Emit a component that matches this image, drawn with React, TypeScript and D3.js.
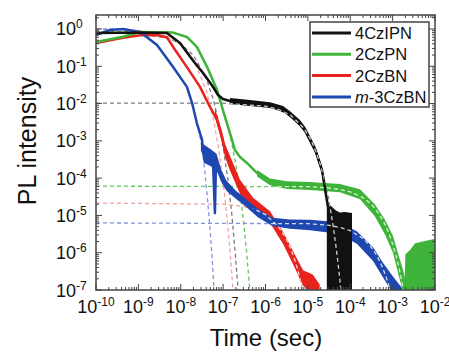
import React from "react";
import * as d3 from "d3";

type P = [number, number];
type B = [number, number, number];

// ---- 4CzIPN (black) ----
const czipnCurve: P[] = [
  [1e-10, 0.78], [1.1e-9, 0.8], [4.7e-9, 0.78], [9.6e-9, 0.42], [1.9e-8, 0.147],
  [3.35e-8, 0.066], [5.45e-8, 0.031], [7.6e-8, 0.0169], [9.9e-8, 0.0132], [1.45e-7, 0.0117],
  [4.3e-7, 0.0103], [1.28e-6, 0.0091], [3.8e-6, 0.0052], [8.6e-6, 0.00195], [1.5e-5, 5.7e-4],
  [2.15e-5, 1.65e-4], [2.8e-5, 2.6e-5], [3.0e-5, 1.68e-5],
];
const czipnBand: B[] = [
  [1.45e-7, 0.0098, 0.014], [4.3e-7, 0.0086, 0.0124], [1.28e-6, 0.0076, 0.0109],
  [2.6e-6, 0.006, 0.0086], [3.8e-6, 0.0043, 0.0062], [6.5e-6, 0.0025, 0.0036],
  [8.6e-6, 0.0016, 0.0024], [1.5e-5, 4.6e-4, 7.1e-4], [2.15e-5, 1.3e-4, 2.1e-4],
  [2.8e-5, 2.0e-5, 3.3e-5],
];
const czipnNoise: P[] = [
  [2.8e-5, 2.6e-5], [3.3e-5, 1.9e-5], [3.9e-5, 1.6e-5], [4.6e-5, 1.35e-5],
  [5.7e-5, 1.2e-5], [7.5e-5, 1.23e-5], [1.1e-4, 1.16e-5],
];
const czipnPrompt: P[] = [
  [1e-10, 0.8], [1e-9, 0.75], [5e-9, 0.56], [1e-8, 0.4], [2e-8, 0.195], [4e-8, 0.048],
  [6e-8, 0.0117], [8e-8, 0.0029], [1e-7, 7.1e-4], [1.3e-7, 8.9e-5], [1.6e-7, 1.1e-5],
  [1.9e-7, 1.2e-6], [2.2e-7, 1.5e-7], [2.3e-7, 7.2e-8],
];
const czipnDelayed: P[] = [
  [1e-10, 0.0103], [1e-7, 0.0103], [1e-6, 0.0085], [2e-6, 0.007], [4e-6, 0.0048],
  [8e-6, 0.0022], [1.2e-5, 1.03e-3], [1.6e-5, 4.7e-4], [2e-5, 2.2e-4], [2.5e-5, 8.4e-5],
  [3e-5, 3.3e-5], [3.5e-5, 1.2e-5], [4e-5, 4.8e-6], [4.5e-5, 1.8e-6], [5e-5, 6.9e-7],
  [5.5e-5, 2.7e-7], [6e-5, 1e-7], [6.3e-5, 5.6e-8],
];

// ---- 2CzPN (green) ----
const czpnCurve: P[] = [
  [1e-10, 0.45], [4.3e-10, 0.62], [1.1e-9, 0.83], [6.6e-9, 0.8], [1.4e-8, 0.61],
  [2.4e-8, 0.33], [4.2e-8, 0.095], [7.2e-8, 0.023], [9.9e-8, 0.0067], [1.45e-7, 0.0016],
  [1.9e-7, 5.7e-4], [2.5e-7, 3.7e-4], [3.65e-7, 2.55e-4], [6.3e-7, 1.37e-4],
  [1.28e-6, 7.9e-5], [3.2e-6, 6.5e-5], [1.12e-5, 6.1e-5], [5.7e-5, 5.4e-5],
  [1.7e-4, 3.7e-5], [3.8e-4, 1.4e-5], [6.6e-4, 4.9e-6], [1.02e-3, 1.7e-6],
  [1.34e-3, 5.3e-7], [1.76e-3, 1.85e-7], [2.05e-3, 8.5e-8],
];
const czpnBand: B[] = [
  [6.3e-7, 1.1e-4, 1.65e-4], [1.28e-6, 6.4e-5, 9.8e-5], [3.2e-6, 5.1e-5, 8.3e-5],
  [1.12e-5, 4.8e-5, 7.9e-5], [5.7e-5, 4.2e-5, 7.0e-5], [1.7e-4, 2.7e-5, 5.0e-5],
  [3.8e-4, 9.5e-6, 2.0e-5], [6.6e-4, 3.1e-6, 7.6e-6], [1.02e-3, 1.0e-6, 2.8e-6],
  [1.34e-3, 2.9e-7, 9.5e-7], [1.76e-3, 9e-8, 3.5e-7], [2.05e-3, 4e-8, 1.7e-7],
];
const czpnNoise: P[] = [
  [1.9e-3, 1e-7], [2.0e-3, 9e-7], [2.6e-3, 1.2e-6], [3.4e-3, 1.8e-6],
  [5.8e-3, 2.06e-6], [9e-3, 2.3e-6], [1e-2, 2.4e-6],
];
const czpnPrompt: P[] = [
  [1e-10, 0.85], [5e-9, 0.83], [1.4e-8, 0.62], [2.4e-8, 0.32], [4.2e-8, 0.093],
  [7.2e-8, 0.021], [1e-7, 0.0062], [1.45e-7, 1.5e-3], [2e-7, 2.3e-4], [2.5e-7, 4.3e-5],
  [3e-7, 7.6e-6], [3.5e-7, 1.36e-6], [4e-7, 2.4e-7], [4.4e-7, 6e-8],
];
const czpnDelayed: P[] = [
  [1e-10, 6.1e-5], [1e-5, 5.9e-5], [3e-5, 5.5e-5], [6e-5, 4.9e-5], [1e-4, 4.3e-5],
  [2e-4, 3.0e-5], [3e-4, 2.1e-5], [4e-4, 1.46e-5], [6e-4, 7.1e-6], [8e-4, 3.5e-6],
  [1e-3, 1.7e-6], [1.2e-3, 8.4e-7], [1.4e-3, 4.1e-7], [1.6e-3, 2.0e-7], [1.8e-3, 9.8e-8],
  [1.9e-3, 6.9e-8],
];

// ---- 2CzBN (red) ----
const czbnCurve: P[] = [
  [1e-10, 0.42], [4.3e-10, 0.58], [1.1e-9, 0.68], [2.75e-9, 0.69], [4.7e-9, 0.6],
  [6.6e-9, 0.33], [1.4e-8, 0.095], [2.85e-8, 0.028], [4.4e-8, 0.0103], [7.2e-8, 0.0036],
  [9.4e-8, 0.00126], [1.1e-7, 5.7e-4], [1.45e-7, 2.55e-4], [2.5e-7, 5.8e-5],
  [5.1e-7, 2.15e-5], [1.28e-6, 9.1e-6], [2.6e-6, 2.5e-6], [4.5e-6, 7.2e-7],
  [7.7e-6, 2.1e-7], [1.3e-5, 1.64e-7], [1.9e-5, 8e-8],
];
const czbnBand: B[] = [
  [6.4e-8, 4.5e-3, 7.5e-3], [9.4e-8, 9e-4, 1.8e-3], [1.1e-7, 3.8e-4, 8.5e-4],
  [1.45e-7, 1.6e-4, 4e-4], [2.5e-7, 3.8e-5, 9e-5], [5.1e-7, 1.5e-5, 3.0e-5],
  [1.28e-6, 6.3e-6, 1.3e-5], [2.6e-6, 1.7e-6, 3.6e-6], [4.5e-6, 4.8e-7, 1.1e-6],
  [7.7e-6, 1.3e-7, 3.4e-7], [1.3e-5, 8e-8, 2.6e-7], [1.9e-5, 5e-8, 1.4e-7],
];
const czbnNoise: P[] = [];
const czbnPrompt: P[] = [
  [1e-10, 1.0], [1e-9, 0.91], [5e-9, 0.62], [1e-8, 0.39], [2e-8, 0.15], [4e-8, 0.023],
  [6e-8, 3.5e-3], [8e-8, 5.3e-4], [1e-7, 8e-5], [1.2e-7, 1.2e-5], [1.4e-7, 1.8e-6],
  [1.6e-7, 2.8e-7], [1.75e-7, 6.5e-8],
];
const czbnDelayed: P[] = [
  [1e-10, 2.15e-5], [1e-7, 2.0e-5], [3e-7, 1.75e-5], [6e-7, 1.4e-5], [1e-6, 1.05e-5],
  [2e-6, 5.1e-6], [3e-6, 2.5e-6], [4e-6, 1.24e-6], [5e-6, 6.0e-7], [6e-6, 2.9e-7],
  [7e-6, 1.45e-7], [8e-6, 7e-8],
];

// ---- m-3CzBN (blue) ----
const m3czbnCurve: P[] = [
  [1e-10, 0.69], [2.1e-10, 0.94], [4.3e-10, 1.0], [1.1e-9, 0.83], [2.75e-9, 0.37],
  [6.6e-9, 0.095], [1.4e-8, 0.028], [1.85e-8, 0.0103], [2.4e-8, 0.003], [3.2e-8, 0.00105],
  [3.2e-8, 5.7e-4], [3.7e-8, 3.7e-4], [4.4e-8, 4.6e-4], [4.9e-8, 2.7e-4], [5.45e-8, 4.9e-4],
  [5.8e-8, 2.25e-4], [6.4e-8, 1.16e-5], [6.8e-8, 3.0e-4], [7.6e-8, 2.25e-4],
  [8.4e-8, 1.37e-4], [9.4e-8, 8.9e-5], [1.1e-7, 6.5e-5], [1.3e-7, 4.8e-5],
  [1.6e-7, 4.0e-5], [2.25e-7, 3.1e-5], [3.3e-7, 2.3e-5], [4.8e-7, 1.6e-5],
  [6.6e-7, 1.16e-5], [9.8e-7, 8.5e-6], [1.45e-6, 6.7e-6], [3.8e-6, 5.9e-6],
  [1.12e-5, 5.5e-6], [5.7e-5, 4.6e-6], [1.45e-4, 2.5e-6], [3.45e-4, 9.2e-7],
  [5.9e-4, 3.4e-7], [1.02e-3, 1.36e-7], [1.5e-3, 6.6e-8],
];
const m3czbnBand: B[] = [
  [3.0e-8, 7e-4, 1.4e-3], [3.5e-8, 2.6e-4, 8e-4], [5e-8, 2.1e-4, 6e-4],
  [7e-8, 1.6e-4, 4.5e-4], [9e-8, 8e-5, 1.7e-4], [1.2e-7, 4.6e-5, 8.5e-5],
  [2e-7, 2.8e-5, 4.6e-5],
  [3.3e-7, 1.8e-5, 2.9e-5], [6.6e-7, 9e-6, 1.5e-5], [1.45e-6, 5.2e-6, 8.6e-6],
  [3.8e-6, 4.4e-6, 7.8e-6], [1.12e-5, 4.0e-6, 7.6e-6], [5.7e-5, 3.2e-6, 6.6e-6],
  [1.45e-4, 1.7e-6, 3.7e-6], [3.45e-4, 6.0e-7, 1.4e-6], [5.9e-4, 2.2e-7, 5.4e-7],
  [1.02e-3, 8e-8, 2.3e-7], [1.7e-3, 5e-8, 1.1e-7],
];
const m3czbnNoise: P[] = [];
const m3czbnPrompt: P[] = [
  [1e-10, 1.0], [4.3e-10, 1.0], [1.1e-9, 0.85], [2.75e-9, 0.38], [6.6e-9, 0.1],
  [1.4e-8, 0.028], [1.85e-8, 0.0105], [2.4e-8, 3.2e-3], [3.2e-8, 7e-4], [3.7e-8, 1.5e-4],
  [4.2e-8, 3.5e-5], [4.9e-8, 4.5e-6], [5.5e-8, 7e-7], [6.1e-8, 1.1e-7], [6.4e-8, 5e-8],
];
const m3czbnDelayed: P[] = [
  [1e-10, 6.3e-6], [1e-5, 6.0e-6], [3e-5, 5.5e-6], [6e-5, 4.7e-6], [1e-4, 3.9e-6],
  [2e-4, 2.43e-6], [3e-4, 1.51e-6], [4e-4, 9.4e-7], [5e-4, 5.8e-7], [6e-4, 3.6e-7],
  [7e-4, 2.25e-7], [8e-4, 1.4e-7], [9e-4, 8.7e-8],
];

const legendNames = ["4CzIPN", "2CzPN", "2CzBN", "m-3CzBN"];
const xTickValues = [1e-10, 1e-9, 1e-8, 1e-7, 1e-6, 1e-5, 1e-4, 1e-3, 1e-2];
const yTickValues = [1e-7, 1e-6, 1e-5, 1e-4, 1e-3, 1e-2, 1e-1, 1e0];

const series = [
  { name: "4CzIPN", color: "#111111", fit: "#7c7c7c", curve: czipnCurve, band: czipnBand, noise: czipnNoise, prompt: czipnPrompt, delayed: czipnDelayed },
  { name: "2CzPN", color: "#3fb43a", fit: "#62c95a", curve: czpnCurve, band: czpnBand, noise: czpnNoise, prompt: czpnPrompt, delayed: czpnDelayed },
  { name: "2CzBN", color: "#e8231d", fit: "#f4a3a3", curve: czbnCurve, band: czbnBand, noise: czbnNoise, prompt: czbnPrompt, delayed: czbnDelayed },
  { name: "m-3CzBN", color: "#1f47b0", fit: "#8494da", curve: m3czbnCurve, band: m3czbnBand, noise: m3czbnNoise, prompt: m3czbnPrompt, delayed: m3czbnDelayed },
];
const drawOrder = ["2CzBN", "m-3CzBN", "2CzPN", "4CzIPN"];

const W = 449;
const H = 354;
const L = 96, R = 435, T = 15, Bt = 290;
const FONT = "'Liberation Sans', Arial, Helvetica, sans-serif";
const AX = "#444";

export default function App() {
  const x = d3.scaleLog().domain([1e-10, 1e-2]).range([L, R]);
  const y = d3.scaleLog().domain([1e-7, Math.pow(10, 0.375)]).range([Bt, T]);

  const line = d3.line<P>().x((d) => x(d[0])).y((d) => y(d[1]));
  const band = d3.area<B>().x((d) => x(d[0])).y0((d) => y(d[1])).y1((d) => y(d[2]));
  const noise = d3.area<P>().x((d) => x(d[0])).y0(Bt + 10).y1((d) => y(d[1]));

  const minorX: number[] = [];
  for (let e = -10; e < -2; e++) for (let k = 2; k <= 9; k++) minorX.push(k * Math.pow(10, e));
  const minorY: number[] = [];
  for (let e = -7; e <= 0; e++)
    for (let k = 2; k <= 9; k++) {
      const v = k * Math.pow(10, e);
      if (v <= Math.pow(10, 0.375)) minorY.push(v);
    }

  const byName = (n: string) => series.find((s) => s.name === n)!;
  const exp = (v: number) => String(Math.round(Math.log10(v)));

  return (
    <div style={{ position: "fixed", left: 0, top: 0 }}>
      <svg width={W} height={H} style={{ display: "block", background: "#fff" }}>
        <defs>
          <clipPath id="plot">
            <rect x={L} y={T} width={R - L} height={Bt - T} />
          </clipPath>
          {series.map((s, i) => (
            <clipPath id={`bandclip${i}`} key={s.name}>
              <path d={band(s.band) || ""} />
              {s.noise.length > 0 && <path d={noise(s.noise) || ""} />}
            </clipPath>
          ))}
        </defs>

        <g clipPath="url(#plot)">
          {/* fitted components */}
          {series.map((s) => (
            <g key={s.name + "fit"} fill="none" stroke={s.fit} strokeWidth={1.3} strokeDasharray="4 3">
              <path d={line(s.prompt) || ""} />
              <path d={line(s.delayed) || ""} />
            </g>
          ))}
          {/* measured decays */}
          {drawOrder.map((n) => {
            const s = byName(n);
            return (
              <g key={n}>
                <path d={line(s.curve) || ""} fill="none" stroke={s.color} strokeWidth={2.5} strokeLinejoin="round" />
                <path d={band(s.band) || ""} fill={s.color} />
                {s.noise.length > 0 && <path d={noise(s.noise) || ""} fill={s.color} />}
              </g>
            );
          })}
          {/* fits seen through the thick data bands */}
          {series.map((s, i) => (
            <g key={s.name + "over"} clipPath={`url(#bandclip${i})`}>
              <path d={line(s.delayed) || ""} fill="none" stroke="#fff" strokeOpacity={0.8} strokeWidth={1.3} strokeDasharray="4 3" />
            </g>
          ))}
        </g>

        {/* frame and ticks */}
        <rect x={L} y={T} width={R - L} height={Bt - T} fill="none" stroke={AX} strokeWidth={1.5} />
        <g stroke={AX} strokeWidth={1}>
          {xTickValues.map((v) => (
            <g key={"xt" + v}>
              <line x1={x(v)} x2={x(v)} y1={Bt} y2={Bt - 6} />
              <line x1={x(v)} x2={x(v)} y1={T} y2={T + 6} />
            </g>
          ))}
          {minorX.map((v) => (
            <g key={"xm" + v}>
              <line x1={x(v)} x2={x(v)} y1={Bt} y2={Bt - 3} />
              <line x1={x(v)} x2={x(v)} y1={T} y2={T + 3} />
            </g>
          ))}
          {yTickValues.map((v) => (
            <g key={"yt" + v}>
              <line x1={L} x2={L + 6} y1={y(v)} y2={y(v)} />
              <line x1={R} x2={R - 6} y1={y(v)} y2={y(v)} />
            </g>
          ))}
          {minorY.map((v) => (
            <g key={"ym" + v}>
              <line x1={L} x2={L + 3} y1={y(v)} y2={y(v)} />
              <line x1={R} x2={R - 3} y1={y(v)} y2={y(v)} />
            </g>
          ))}
        </g>

        {/* tick labels */}
        <g fontFamily={FONT} fill="#111">
          {xTickValues.map((v) => (
            <text key={"xl" + v} x={x(v)} y={313} textAnchor="middle" fontSize={18}>
              10<tspan fontSize={12} dy={-7}>{exp(v)}</tspan>
            </text>
          ))}
          {yTickValues.map((v) => (
            <text key={"yl" + v} x={56} y={y(v) + 6.5} fontSize={18}>
              10<tspan fontSize={12} dy={-7}>{exp(v)}</tspan>
            </text>
          ))}
          <text x={266} y={346} textAnchor="middle" fontSize={24}>Time (sec)</text>
          <text transform="translate(36,141) rotate(-90)" textAnchor="middle" fontSize={25}>PL intensity</text>
        </g>

        {/* legend */}
        <g fontFamily={FONT}>
          <rect x={310} y={22} width={119} height={85} fill="#fff" stroke={AX} strokeWidth={1.5} />
          {legendNames.map((n, i) => {
            const s = byName(n);
            const cy = 33 + i * 21.3;
            return (
              <g key={"lg" + n}>
                <line x1={312} x2={351} y1={cy} y2={cy} stroke={s.color} strokeWidth={3} />
                <text x={355} y={cy + 6} fontSize={16.5} fill="#111">
                  {n.startsWith("m-") ? (
                    <>
                      <tspan fontStyle="italic">m</tspan>
                      {n.slice(1)}
                    </>
                  ) : (
                    n
                  )}
                </text>
              </g>
            );
          })}
        </g>
      </svg>
    </div>
  );
}
